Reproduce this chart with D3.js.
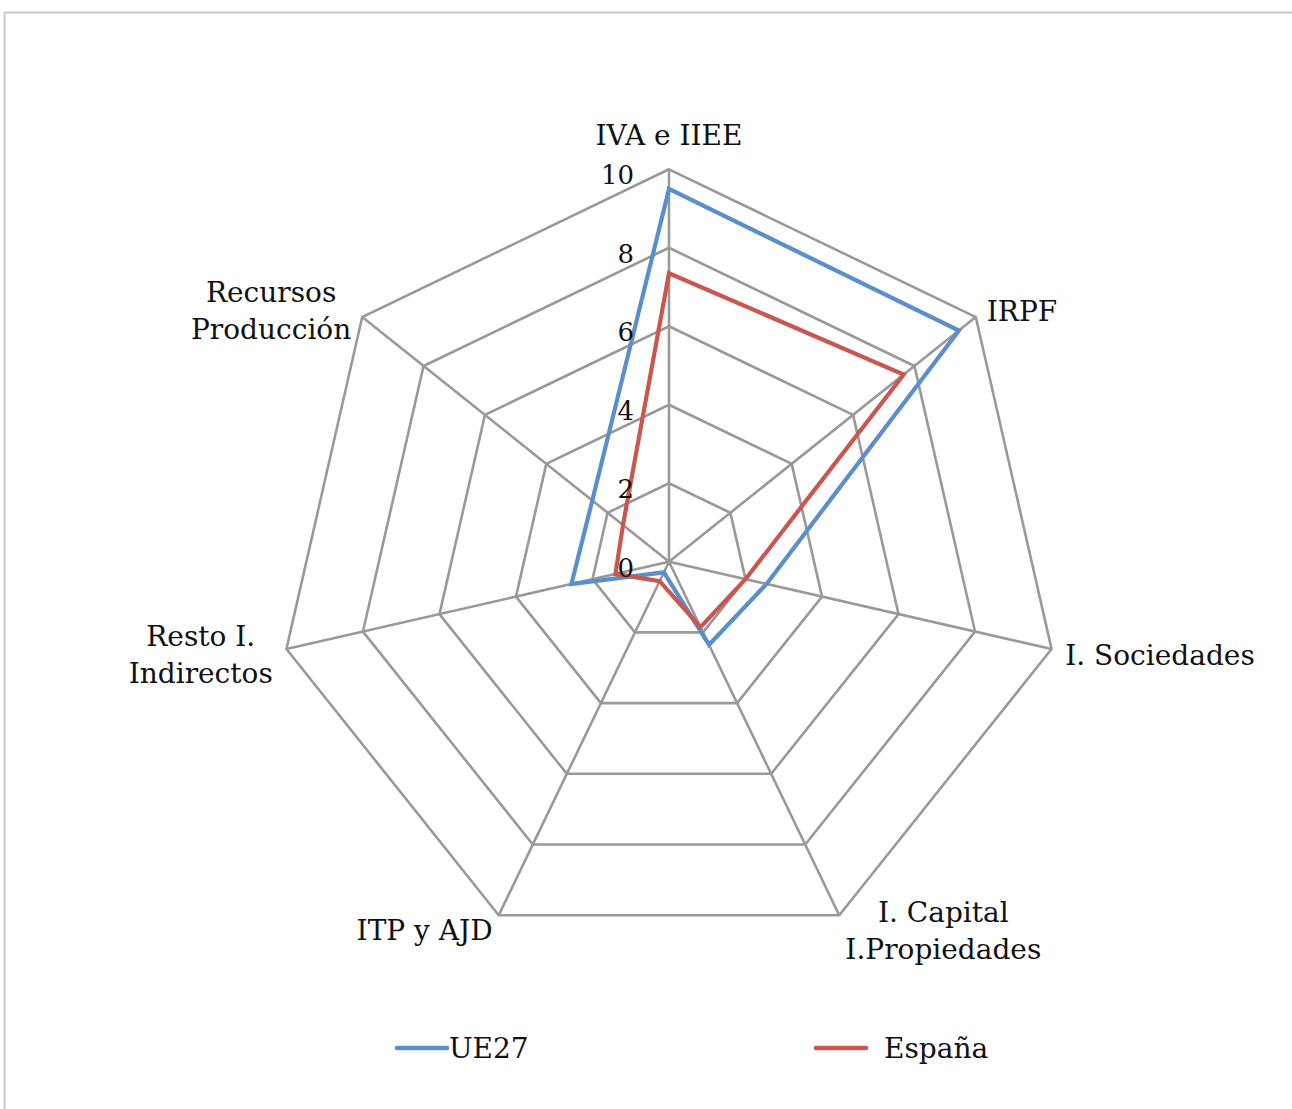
<!DOCTYPE html>
<html>
<head>
<meta charset="utf-8">
<script src="https://cdn.jsdelivr.net/npm/d3@7"></script>
<style>
  body { margin: 0; background: #fff; }
  text { font-family: "DejaVu Serif", serif; fill: #111; }
</style>
</head>
<body>
<div id="chart"></div>
<script>
// values
const categories = [
  ['IVA e IIEE'],
  ['IRPF'],
  ['I. Sociedades'],
  ['I. Capital', 'I.Propiedades'],
  ['ITP y AJD'],
  ['Resto I.', 'Indirectos'],
  ['Recursos', 'Producción']
]
const ue27 = [9.5, 9.45, 2.55, 2.35, 0.3, 2.55, 2.5]
const espana = [7.35, 7.65, 2.0, 1.85, 0.55, 1.4, 1.5]
const ticks = [0, 2, 4, 6, 8, 10]
const seriesNames = ['UE27', 'España']
const colors = ['#5a8fcb', '#c9574f']

const width = 1292
const height = 1109
const cx = 669
const cy = 561.7
const R = 392.4
const n = categories.length
const step = 2 * Math.PI / n

const svg = d3.select('#chart')
  .append('svg')
  .attr('width', width)
  .attr('height', height)

// outer frame (only top and left edges visible)
svg.append('path')
  .attr('d', `M4.5,${height} V12.5 H${width}`)
  .attr('fill', 'none')
  .attr('stroke', '#c8c8c8')
  .attr('stroke-width', 2)

const r = d3.scaleLinear().domain([0, 10]).range([0, R])

const g = svg.append('g').attr('transform', `translate(${cx},${cy})`)

const radial = d3.lineRadial()
  .angle((d, i) => i * step)
  .radius(d => r(d))
  .curve(d3.curveLinearClosed)

// grid rings
g.selectAll('path.ring')
  .data(ticks.filter(t => t > 0))
  .enter().append('path')
  .attr('class', 'ring')
  .attr('d', t => radial(categories.map(() => t)))
  .attr('fill', 'none')
  .attr('stroke', '#999')
  .attr('stroke-width', 2.6)

// spokes
g.selectAll('line.spoke')
  .data(categories)
  .enter().append('line')
  .attr('class', 'spoke')
  .attr('x1', 0).attr('y1', 0)
  .attr('x2', (d, i) => r(10) * Math.sin(i * step))
  .attr('y2', (d, i) => -r(10) * Math.cos(i * step))
  .attr('stroke', '#999')
  .attr('stroke-width', 2.6)

// series
const series = [ue27, espana]
g.selectAll('path.series')
  .data(series)
  .enter().append('path')
  .attr('class', 'series')
  .attr('d', d => radial(d))
  .attr('fill', 'none')
  .attr('stroke', (d, i) => colors[i])
  .attr('stroke-width', 4.2)
  .attr('stroke-linejoin', 'miter')

// tick labels
g.selectAll('text.tick')
  .data(ticks)
  .enter().append('text')
  .attr('class', 'tick')
  .attr('x', -35)
  .attr('y', t => -r(t) + 6)
  .attr('text-anchor', 'end')
  .attr('dominant-baseline', 'central')
  .attr('font-size', 26)
  .text(t => t)

// category labels
const lineH = 37
categories.forEach((lines, i) => {
  const a = i * step
  const s = Math.sin(a)
  const c = Math.cos(a)
  const px = (r(10) + 14) * s
  const py = -(r(10) + 14) * c
  const t = g.append('text')
    .attr('font-size', 28)
    .attr('text-anchor', 'middle')
  lines.forEach((l, k) => {
    t.append('tspan')
      .attr('x', 0)
      .attr('dy', k === 0 ? 0 : lineH)
      .text(l)
  })
  const bb = t.node().getBBox()
  let x
  if (s > 0.1) x = px - bb.x
  else if (s < -0.1) x = px - (bb.x + bb.width)
  else x = px - (bb.x + bb.width / 2)
  let y
  if (c > 0.9) y = py - 3 - (bb.y + bb.height)
  else y = py + 3 - (bb.y + bb.height / 2)
  t.attr('transform', `translate(${x},${y})`)
})

// legend
const legendX = [397, 816]
const legend = svg.selectAll('g.legend')
  .data(seriesNames)
  .enter().append('g')
  .attr('class', 'legend')
  .attr('transform', (d, i) => `translate(${legendX[i]},1048)`)
legend.append('line')
  .attr('x1', 0).attr('x2', 50)
  .attr('stroke', (d, i) => colors[i])
  .attr('stroke-width', 4.5)
  .attr('stroke-linecap', 'round')
legend.append('text')
  .attr('x', (d, i) => i === 0 ? 52 : 68)
  .attr('dominant-baseline', 'central')
  .attr('font-size', 28)
  .text(d => d)
</script>
</body>
</html>
